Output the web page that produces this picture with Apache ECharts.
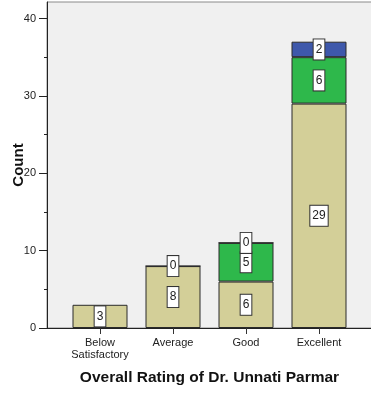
<!DOCTYPE html>
<html>
<head>
<meta charset="utf-8">
<script src="https://cdn.jsdelivr.net/npm/echarts@6/dist/echarts.min.js"></script>
<style>
  html, body { margin: 0; padding: 0; background: #ffffff; }
  #chart { width: 371px; height: 394px; }
</style>
</head>
<body>
<div id="chart"></div>
<script>
// Overall rating categories and stacked counts per segment
const categories = ['Below\nSatisfactory', 'Average', 'Good', 'Excellent'];
const tanCounts = [3, 8, 6, 29];
const greenCounts = [null, 0, 5, 6];
const blueCounts = [null, null, 0, 2];
const majorTicks = [0, 10, 20, 30, 40];
const minorTicks = [5, 15, 25, 35];
const yMax = 42.13;

const font = 'Liberation Sans, Arial, sans-serif';

const labelStyle = {
  show: true,
  position: 'inside',
  color: '#222',
  fontFamily: font,
  fontSize: 12,
  lineHeight: 14,
  backgroundColor: '#ffffff',
  borderColor: '#333',
  borderWidth: 1,
  padding: [3, 2, 3, 2]
};

function segment(name, data, color) {
  return {
    name: name,
    type: 'bar',
    stack: 'rating',
    xAxisIndex: 0,
    yAxisIndex: 0,
    barWidth: 55,
    data: data,
    itemStyle: { color: color, borderColor: '#2a2a2a', borderWidth: 1 },
    label: labelStyle,
    emphasis: { disabled: true }
  };
}

const chart = echarts.init(document.getElementById('chart'), null, { renderer: 'canvas' });
chart.setOption({
  animation: false,
  grid: [
    { left: 63.5, width: 292, top: 2, bottom: 66, show: false,
      containLabel: false, outerBoundsMode: 'none' },
    { left: 47, right: -12, top: 2, bottom: 66, show: true,
      containLabel: false, outerBoundsMode: 'none',
      backgroundColor: '#f0f0f0', borderColor: '#8a8a8a', borderWidth: 1 }
  ],
  xAxis: [
    {
      type: 'category', gridIndex: 0, data: categories,
      axisLine: { show: false },
      axisTick: { show: true, alignWithLabel: true, interval: 0, length: 6, lineStyle: { color: '#333' } },
      axisLabel: { interval: 0, color: '#222', fontFamily: font, fontSize: 11, lineHeight: 12, margin: 9 },
      name: 'Overall Rating of Dr. Unnati Parmar',
      nameLocation: 'middle',
      nameGap: 42,
      nameMoveOverlap: false,
      nameTextStyle: { color: '#111', fontFamily: font, fontSize: 15.5, fontWeight: 'bold' }
    },
    {
      type: 'value', gridIndex: 1, min: 0, max: 1,
      axisLine: { show: true, lineStyle: { color: '#222', width: 1 } },
      axisTick: { show: false }, axisLabel: { show: false }, splitLine: { show: false }
    }
  ],
  yAxis: [
    {
      type: 'value', gridIndex: 0, min: 0, max: yMax, show: false
    },
    {
      type: 'value', gridIndex: 1, min: 0, max: yMax,
      axisLine: { show: true, lineStyle: { color: '#222', width: 1 } },
      axisTick: { show: true, length: 8, customValues: majorTicks, lineStyle: { color: '#222' } },
      axisLabel: { customValues: majorTicks, color: '#222', fontFamily: font, fontSize: 11, margin: 11 },
      splitLine: { show: false },
      name: 'Count',
      nameLocation: 'middle',
      nameGap: 21,
      nameMoveOverlap: false,
      nameTextStyle: { color: '#111', fontFamily: font, fontSize: 15, fontWeight: 'bold' }
    },
    {
      type: 'value', gridIndex: 1, min: 0, max: yMax, position: 'left',
      axisLine: { show: false },
      axisTick: { show: true, length: 3, customValues: minorTicks, lineStyle: { color: '#222' } },
      axisLabel: { show: false },
      splitLine: { show: false }
    }
  ],
  series: [
    segment('Tan', tanCounts, '#d3cf98'),
    segment('Green', greenCounts, '#2eb84b'),
    segment('Blue', blueCounts, '#3e58ab')
  ]
});
</script>
</body>
</html>
